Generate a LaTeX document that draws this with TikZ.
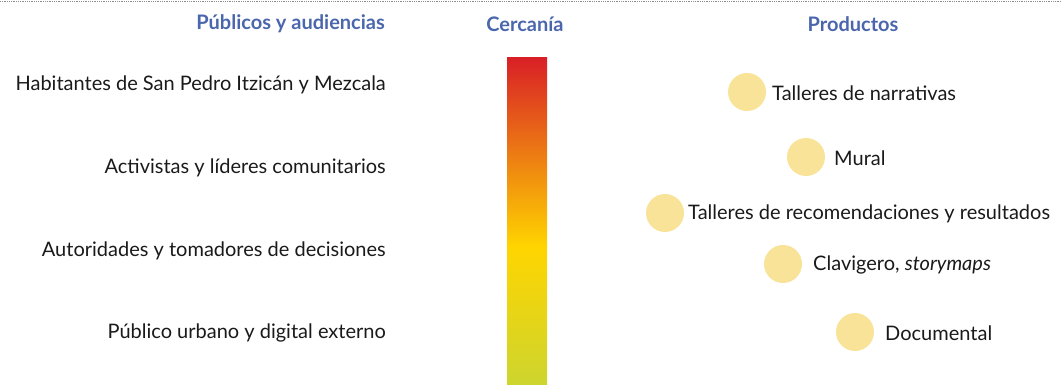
\documentclass[tikz,border=0pt]{standalone}
\usepackage{fontspec}
\setmainfont{Lato}
\usepackage{tikz}
\usetikzlibrary{positioning}

\definecolor{headblue}{HTML}{4A66AC}
\definecolor{dotgrey}{HTML}{8C8C8C}
\definecolor{barred}{HTML}{D92026}
\definecolor{barorange}{HTML}{E67A1F}
\definecolor{baryellow}{HTML}{FFD500}
\definecolor{barlime}{HTML}{CDD52E}
\definecolor{dotfill}{HTML}{F8E398}
\definecolor{txt}{HTML}{1A1A1A}

\tikzset{
  header/.style={font=\fontsize{20}{24}\selectfont\bfseries, text=headblue, inner sep=0pt},
  publico/.style={font=\fontsize{20}{24}\selectfont, text=txt, anchor=east, inner sep=0pt},
  producto/.style={font=\fontsize{20}{24}\selectfont, text=txt, anchor=west, inner sep=0pt},
  punto/.style={circle, fill=dotfill, minimum size=38pt, inner sep=0pt}
}

\begin{document}
\begin{tikzpicture}[x=1pt,y=-1pt]
        \useasboundingbox (0,0) rectangle (1061,385);
        \draw[dotgrey, densely dotted, line width=0.8pt] (0,1) -- (1061,1);
        % encabezados
        \node[header, anchor=east] (hpub) at (385,24) {Públicos y audiencias};
        \node[header] (hcer) at (525,24) {Cercanía};
        \node[header] (hpro) at (853,24) {Productos};
        % barra de cercania
        \shade[top color=barred, middle color=barorange, bottom color=baryellow] (507,58) rectangle (547,247.5);
        \shade[top color=baryellow, bottom color=barlime] (507,247) rectangle (547,385);
        % publicos
        \node[publico] (p1) at (386,85) {Habitantes de San Pedro Itzicán y Mezcala};
        \node[publico] (p2) at (386,168) {Activistas y líderes comunitarios};
        \node[publico] (p3) at (386,251) {Autoridades y tomadores de decisiones};
        \node[publico] (p4) at (386,333) {Público urbano y digital externo};
        % productos
        \node[punto] (c1) at (747,92) {};
        \node[punto] (c2) at (806,157) {};
        \node[punto] (c3) at (665,213) {};
        \node[punto] (c4) at (783,264) {};
        \node[punto] (c5) at (855,332) {};
        \node[producto] (t1) at (772,93) {Talleres de narrativas};
        \node[producto] (t2) at (834,158) {Mural};
        \node[producto] (t3) at (688,214) {Talleres de recomendaciones y resultados};
        \node[producto] (t4) at (813,265) {Clavigero, \textit{storymaps}};
        \node[producto] (t5) at (885,333) {Documental};
    \end{tikzpicture}
\end{document}
